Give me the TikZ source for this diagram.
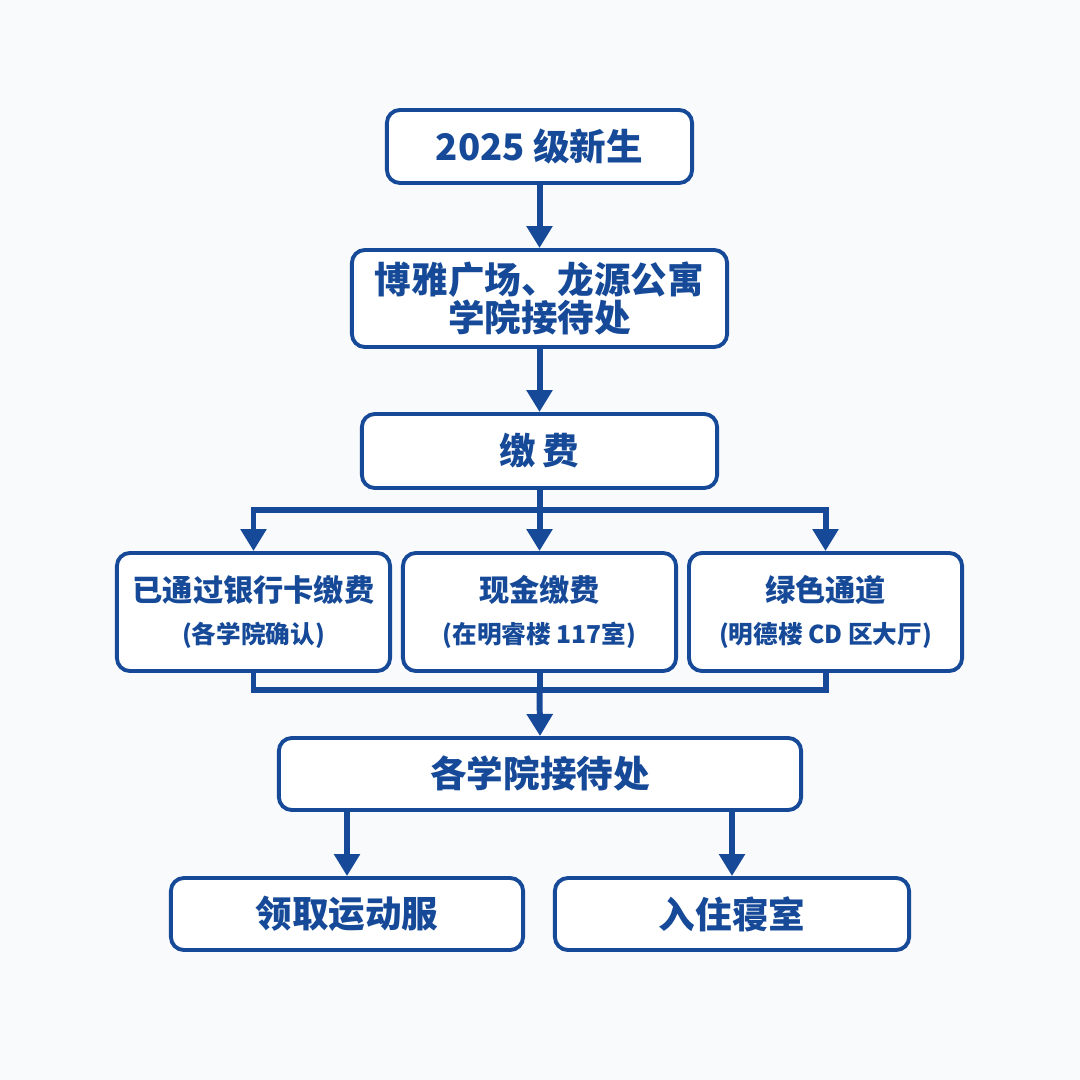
\documentclass[tikz,border=0pt]{standalone}
\usepackage{fontspec}
\usetikzlibrary{arrows.meta}
\newfontfamily\cjk{Noto Sans CJK SC}
\definecolor{flowblue}{RGB}{22,74,152}
\definecolor{paper}{RGB}{249,250,252}
\tikzset{
  box/.style={draw=flowblue, line width=1.1pt, rounded corners=0.13cm, fill=white,
    text=flowblue, font=\cjk\bfseries, align=center, inner sep=0pt},
  link/.style={draw=flowblue, line width=1.7pt},
  arrow/.style={link, -{Triangle[width=0.25cm,length=0.22cm]}}
}
\newcommand{\bigtxt}{\fontsize{10.4}{12.8}\selectfont}
\newcommand{\rowtxt}{\fontsize{8.6}{11}\selectfont}
\newcommand{\subtxt}{\fontsize{7}{11.2}\selectfont}

\begin{document}
\begin{tikzpicture}[x=0.01cm,y=-0.01cm]
	\fill[paper] (0,0) rectangle (1080,1080);
	\useasboundingbox (0,0) rectangle (1080,1080);
	
	% main column
	\node[box, minimum width=3.05cm, minimum height=0.73cm] (fresh) at (539.5,146.5) {\bigtxt 2025 级新生};
	\node[box, minimum width=3.75cm, minimum height=0.97cm] (hall) at (539.5,298.5) {\bigtxt 博雅广场、龙源公寓\\[-1pt]\bigtxt 学院接待处};
	\node[box, minimum width=3.55cm, minimum height=0.74cm] (pay) at (539.5,451) {\bigtxt 缴\,费};
	
	% ways to pay
	\node[box, minimum width=2.73cm, minimum height=1.18cm] (bank) at (253.5,612) {\rowtxt 已通过银行卡缴费\\\subtxt (各学院确认)};
	\node[box, minimum width=2.73cm, minimum height=1.18cm] (cash) at (539.5,612) {\rowtxt 现金缴费\\\subtxt (在明睿楼 117室)};
	\node[box, minimum width=2.73cm, minimum height=1.18cm] (green) at (825.5,612) {\rowtxt 绿色通道\\\subtxt (明德楼 CD 区大厅)};
	
	\node[box, minimum width=5.22cm, minimum height=0.72cm] (desk) at (540,774) {\bigtxt 各学院接待处};
	\node[box, minimum width=3.52cm, minimum height=0.72cm] (sport) at (347,914) {\bigtxt 领取运动服};
	\node[box, minimum width=3.54cm, minimum height=0.72cm] (dorm) at (732,914) {\bigtxt 入住寝室};
	
	\coordinate (split) at (539.5,510);
	\coordinate (merge) at (539.5,690);
	
	\draw[arrow] (fresh) -- (hall);
	\draw[arrow] (hall) -- (pay);
	\draw[link] (pay.south) -- (split);
	\draw[arrow] (split) -| (bank.north);
	\draw[arrow] (split) -| (green.north);
	\draw[arrow] (split) -- (cash.north);
	\draw[link] (bank.south) |- (merge) -| (green.south);
	\draw[link] (cash.south) -- (merge);
	\draw[arrow] (merge) -- (desk.north);
	\draw[arrow] (desk.south -| sport.north) -- (sport.north);
	\draw[arrow] (desk.south -| dorm.north) -- (dorm.north);
\end{tikzpicture}
\end{document}
